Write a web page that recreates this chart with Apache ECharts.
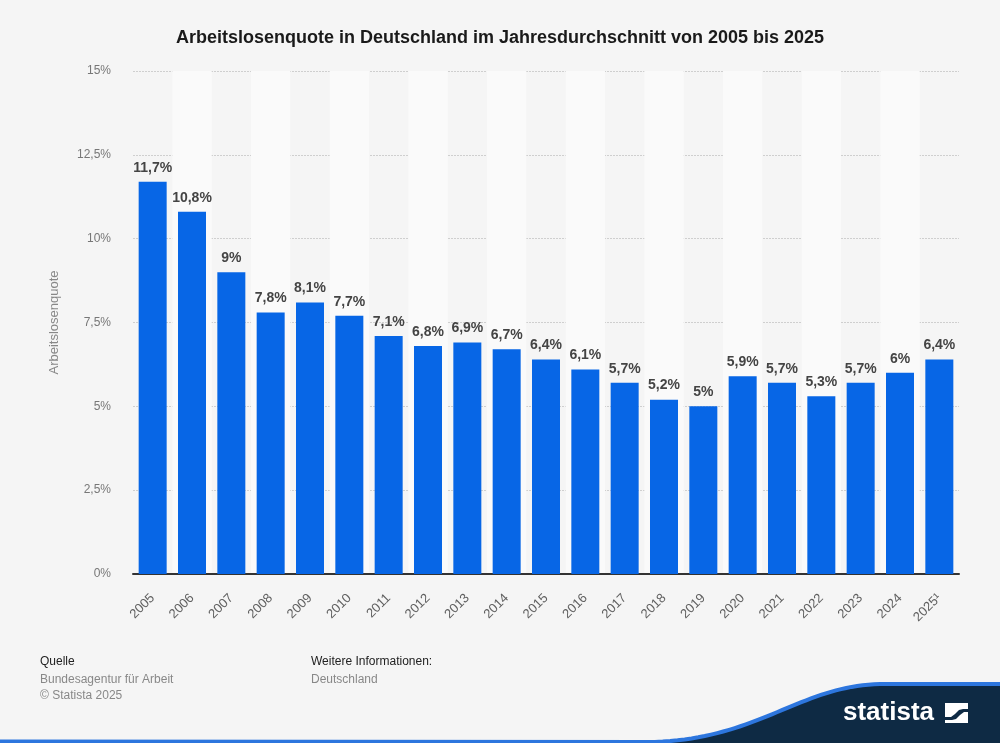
<!DOCTYPE html>
<html>
<head>
<meta charset="utf-8">
<script src="https://cdn.jsdelivr.net/npm/echarts@6/dist/echarts.min.js"></script>
<style>
html,body{margin:0;padding:0;background:#f5f5f5;}
#c{width:1000px;height:743px;}
</style>
</head>
<body>
<div id="c"></div>
<script>
const categories = ['2005','2006','2007','2008','2009','2010','2011','2012','2013','2014','2015','2016','2017','2018','2019','2020','2021','2022','2023','2024','2025¹'];
const values = [11.7,10.8,9.0,7.8,8.1,7.7,7.1,6.8,6.9,6.7,6.4,6.1,5.7,5.2,5.0,5.9,5.7,5.3,5.7,6.0,6.4];
const yTicks = [0,2.5,5,7.5,10,12.5,15];

const fmt = v => String(v).replace('.', ',') + '%';
const font = '"Liberation Sans", Arial, sans-serif';

// decorative footer curve (statista banner)
function bez(p0, p1, p2, p3, n) {
  const pts = [];
  for (let i = 0; i <= n; i++) {
    const t = i / n, u = 1 - t;
    pts.push([
      u*u*u*p0[0] + 3*u*u*t*p1[0] + 3*u*t*t*p2[0] + t*t*t*p3[0],
      u*u*u*p0[1] + 3*u*u*t*p1[1] + 3*u*t*t*p2[1] + t*t*t*p3[1]
    ]);
  }
  return pts;
}
const curve = bez([655, 742], [760, 738], [800, 686], [880, 684], 40);
const bannerPts = curve.concat([[1000, 684], [1000, 743], [655, 743]]);
const strokePts = [[0, 741.5]].concat(curve, [[1000, 684]]);

const chart = echarts.init(document.getElementById('c'));
chart.setOption({
  backgroundColor: '#f5f5f5',
  animation: false,
  textStyle: {fontFamily: font},
  title: {
    text: 'Arbeitslosenquote in Deutschland im Jahresdurchschnitt von 2005 bis 2025',
    left: 'center', top: 24,
    textStyle: {fontFamily: font, fontSize: 18, fontWeight: 'bold', color: '#1a1a1a'}
  },
  grid: {left: 133, right: 41, top: 71, bottom: 169},
  xAxis: {
    type: 'category',
    data: categories,
    axisLine: {lineStyle: {color: '#333', width: 2}},
    axisTick: {show: false},
    axisLabel: {rotate: 45, color: '#606060', fontSize: 13, margin: 22, fontFamily: font, interval: 0},
    splitArea: {show: true, areaStyle: {color: ['rgba(0,0,0,0)', '#fafafa']}}
  },
  yAxis: {
    type: 'value',
    min: yTicks[0], max: yTicks[yTicks.length-1], interval: 2.5,
    name: 'Arbeitslosenquote',
    nameLocation: 'middle', nameGap: 72,
    nameTextStyle: {color: '#888', fontSize: 13, fontFamily: font},
    axisLine: {show: false},
    axisTick: {show: false},
    axisLabel: {color: '#777', fontSize: 12, margin: 22, fontFamily: font, formatter: v => fmt(v)},
    splitLine: {lineStyle: {color: '#cfcfcf', type: [2, 1], width: 1}}
  },
  series: [{
    type: 'bar',
    data: values,
    barWidth: 28,
    itemStyle: {color: '#0766e6'},
    label: {
      show: true, position: 'top', distance: 7,
      color: '#444', fontSize: 14, fontWeight: 'bold', fontFamily: font,
      formatter: p => fmt(p.value)
    }
  }],
  graphic: [
    {type: 'text', x: 40, y: 656, style: {text: 'Quelle', fill: '#222', font: '12px ' + font}},
    {type: 'text', x: 40, y: 674, style: {text: 'Bundesagentur für Arbeit', fill: '#888', font: '12px ' + font}},
    {type: 'text', x: 40, y: 690, style: {text: '© Statista 2025', fill: '#888', font: '12px ' + font}},
    {type: 'text', x: 311, y: 656, style: {text: 'Weitere Informationen:', fill: '#222', font: '12px ' + font}},
    {type: 'text', x: 311, y: 674, style: {text: 'Deutschland', fill: '#888', font: '12px ' + font}},
    {type: 'polygon', shape: {points: bannerPts}, style: {fill: '#0e2a44'}},
    {type: 'polyline', shape: {points: strokePts}, style: {fill: null, stroke: '#2d76de', lineWidth: 4}},
    {type: 'text', x: 843, y: 700, style: {text: 'statista', fill: '#fff', font: 'bold 26px ' + font}},
    {type: 'rect', shape: {x: 945, y: 703, width: 23, height: 20}, style: {fill: '#fff'}},
    {type: 'polygon', shape: {points: [[945,717],[951,717],[955,714],[959,710],[963,709],[968,709],[968,712],[964,712],[960,715],[956,719],[952,720],[945,720]]}, style: {fill: '#0e2a44'}}
  ]
});
</script>
</body>
</html>
